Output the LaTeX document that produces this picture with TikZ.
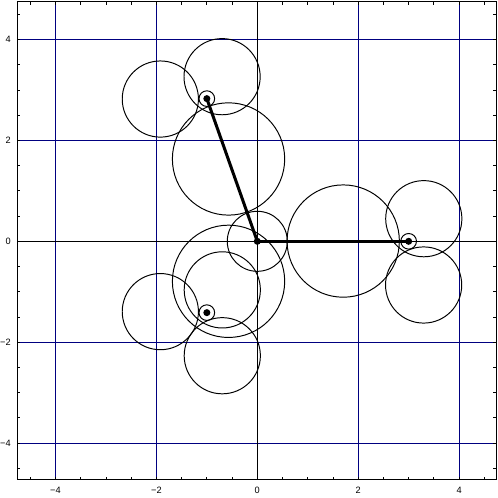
\documentclass[tikz,border=0pt]{standalone}
\usepackage{fontspec}
\setmainfont{Liberation Sans}
\definecolor{gridnavy}{RGB}{0,0,128}
\begin{document}
\begin{tikzpicture}[x=1cm,y=1cm,
  gridline/.style={line width=0.6pt,draw=gridnavy},
  axisline/.style={line width=0.6pt,draw=black},
  sphere/.style={line width=0.55pt,draw=black},
  bond/.style={line width=1.7pt,draw=black},
  ring/.style={line width=0.55pt,draw=black},
  tick/.style={line width=0.5pt},
  ticklabel/.style={font=\fontsize{5.2}{6}\selectfont,inner sep=0pt}]
\useasboundingbox (-5.100,-5.088) rectangle (4.771,4.783);
\def\xl{-4.755}\def\xr{4.735}\def\yb{-4.725}\def\yt{4.745}
% grid
\foreach \v in {-4,-2,2,4}{
  \draw[gridline] (\v,\yb) -- (\v,\yt);
  \draw[gridline] (\xl,\v) -- (\xr,\v);
}
\draw[axisline] (0,\yb) -- (0,\yt);
\draw[axisline] (\xl,0) -- (\xr,0);
% ticks
\foreach \t in {-4.5,-4,...,4.5}{
  \draw[tick] (\t,\yb) -- ++(0,0.06);
  \draw[tick] (\t,\yt) -- ++(0,-0.06);
  \draw[tick] (\xl,\t) -- ++(0.06,0);
  \draw[tick] (\xr,\t) -- ++(-0.06,0);
}
% tick labels
\foreach \v/\s in {-4/{\char"2212 4},-2/{\char"2212 2},0/0,2/2,4/4}{
  \node[ticklabel,anchor=center] (bx\v) at (\v,-4.944) {\s};
  \node[ticklabel,anchor=east] (ly\v) at (-4.88,\v) {\s};
}
% frame
\draw[line width=0.6pt] (\xl,\yb) rectangle (\xr,\yt);
% atoms
\coordinate (O) at (0,0);
\coordinate (A) at (3,0);
\coordinate (B) at (-1,2.828);
\coordinate (C) at (-1,-1.414);
% large spheres
\draw[sphere] (1.703,0.005) circle (1.113);
\draw[sphere] (-0.570,1.632) circle (1.113);
\draw[sphere] (-0.570,-0.793) circle (1.113);
% central sphere
\draw[sphere] (O) circle (0.595);
% small spheres
\draw[sphere] (-1.922,2.820) circle (0.755);
\draw[sphere] (-0.698,3.263) circle (0.755);
\draw[sphere] (3.300,0.448) circle (0.755);
\draw[sphere] (3.297,-0.866) circle (0.755);
\draw[sphere] (-1.922,-1.394) circle (0.755);
\draw[sphere] (-0.694,-0.963) circle (0.755);
\draw[sphere] (-0.694,-2.268) circle (0.755);
% bonds
\draw[bond] (O) -- (A);
\draw[bond] (O) -- (B);
% rings and dots
\foreach \p in {A,B,C}{
  \draw[ring] (\p) circle (0.155);
}
\foreach \p in {O,A,B,C}{
  \fill (\p) circle (0.07);
}
\end{tikzpicture}
\end{document}
